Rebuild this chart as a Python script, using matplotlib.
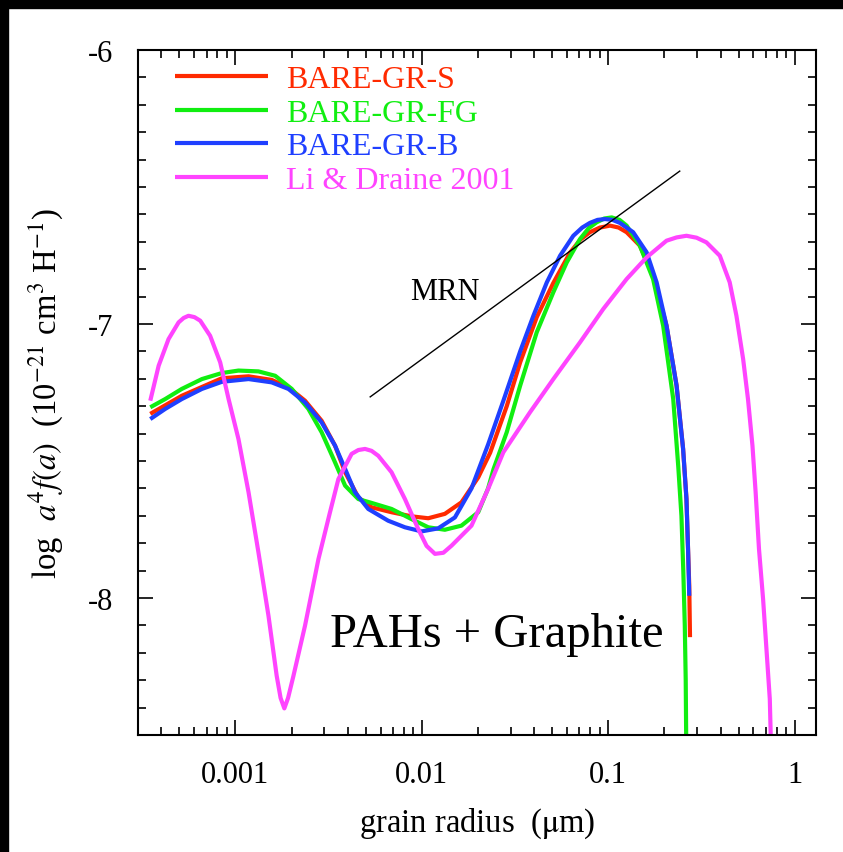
import numpy as np
import matplotlib
matplotlib.use('Agg')
import matplotlib.pyplot as plt
from matplotlib import ticker
from matplotlib.patches import Rectangle

plt.rcParams['font.family'] = ['Liberation Serif', 'DejaVu Serif']
plt.rcParams['mathtext.fontset'] = 'stix'
plt.rcParams['axes.unicode_minus'] = False

# log10 grain radius (um) and log a^4 f(a)
log_a_s = [-3.457, -3.288, -3.073, -2.930, -2.806, -2.716, -2.627, -2.538, -2.466, -2.412,
           -2.341, -2.270, -2.163, -2.056, -1.966, -1.877, -1.788, -1.698, -1.634, -1.545,
           -1.473, -1.384, -1.295, -1.206, -1.150, -1.099, -1.045, -0.991, -0.945, -0.902,
           -0.831, -0.760, -0.688, -0.634, -0.599, -0.581, -0.572, -0.566, -0.562]
val_s = [-7.328, -7.262, -7.198, -7.191, -7.204, -7.231, -7.280, -7.353, -7.444, -7.541,
         -7.633, -7.669, -7.687, -7.702, -7.709, -7.693, -7.651, -7.560, -7.470, -7.300,
         -7.140, -6.975, -6.850, -6.740, -6.692, -6.665, -6.648, -6.641, -6.648, -6.665,
         -6.714, -6.824, -7.006, -7.225, -7.456, -7.639, -7.833, -7.955, -8.143]

log_a_fg = [-3.457, -3.377, -3.288, -3.180, -3.073, -2.984, -2.877, -2.787, -2.698, -2.609,
            -2.538, -2.466, -2.412, -2.341, -2.270, -2.163, -2.056, -1.966, -1.877, -1.788,
            -1.698, -1.645, -1.616, -1.545, -1.473, -1.384, -1.295, -1.223, -1.152, -1.105,
            -1.063, -1.022, -0.982, -0.940, -0.902, -0.831, -0.760, -0.706, -0.652, -0.625,
            -0.608, -0.598, -0.590, -0.585, -0.582]
val_fg = [-7.304, -7.274, -7.237, -7.201, -7.179, -7.170, -7.173, -7.189, -7.237, -7.310,
          -7.395, -7.505, -7.590, -7.639, -7.653, -7.675, -7.712, -7.742, -7.751, -7.736,
          -7.687, -7.600, -7.530, -7.395, -7.225, -7.030, -6.884, -6.775, -6.690, -6.650,
          -6.629, -6.615, -6.611, -6.620, -6.641, -6.714, -6.836, -7.006, -7.274, -7.520,
          -7.700, -7.900, -8.100, -8.300, -8.550]

log_a_b = [-3.457, -3.377, -3.288, -3.180, -3.073, -2.930, -2.806, -2.716, -2.627, -2.538,
           -2.466, -2.412, -2.359, -2.288, -2.181, -2.091, -2.002, -1.913, -1.823, -1.734,
           -1.645, -1.563, -1.473, -1.402, -1.330, -1.259, -1.188, -1.140, -1.099, -1.058,
           -1.018, -0.978, -0.938, -0.867, -0.795, -0.741, -0.688, -0.634, -0.599, -0.581,
           -0.572, -0.566]
val_b = [-7.347, -7.310, -7.274, -7.237, -7.211, -7.201, -7.213, -7.237, -7.286, -7.359,
         -7.444, -7.529, -7.614, -7.675, -7.718, -7.742, -7.757, -7.746, -7.706, -7.600,
         -7.440, -7.280, -7.100, -6.970, -6.848, -6.751, -6.678, -6.648, -6.631, -6.620,
         -6.617, -6.620, -6.631, -6.665, -6.738, -6.848, -7.006, -7.225, -7.456, -7.639,
         -7.833, -7.992]

log_a_ld = [-3.457, -3.412, -3.359, -3.305, -3.278, -3.252, -3.220, -3.189, -3.136, -3.082,
            -3.037, -2.984, -2.930, -2.877, -2.823, -2.779, -2.758, -2.738, -2.718, -2.689,
            -2.627, -2.555, -2.493, -2.448, -2.377, -2.341, -2.305, -2.270, -2.234, -2.163,
            -2.091, -2.020, -1.975, -1.930, -1.885, -1.841, -1.734, -1.645, -1.563, -1.420,
            -1.295, -1.152, -1.027, -0.902, -0.795, -0.688, -0.634, -0.581, -0.527, -0.474,
            -0.402, -0.349, -0.313, -0.277, -0.251, -0.227, -0.210, -0.192, -0.170, -0.152,
            -0.134, -0.129]
val_ld = [-7.280, -7.152, -7.055, -6.994, -6.978, -6.970, -6.975, -6.988, -7.043, -7.140,
          -7.274, -7.420, -7.614, -7.833, -8.065, -8.284, -8.365, -8.403, -8.365, -8.284,
          -8.101, -7.858, -7.687, -7.566, -7.474, -7.460, -7.456, -7.463, -7.481, -7.541,
          -7.639, -7.748, -7.810, -7.839, -7.835, -7.809, -7.736, -7.602, -7.468, -7.322,
          -7.201, -7.067, -6.945, -6.836, -6.757, -6.696, -6.684, -6.678, -6.685, -6.702,
          -6.751, -6.848, -6.970, -7.128, -7.274, -7.444, -7.614, -7.821, -8.004, -8.186,
          -8.369, -8.503]

# MRN power law segment
mrn_a = [0.00528, 0.2415]
mrn_val = [-7.266, -6.442]

labels = ['BARE-GR-S', 'BARE-GR-FG', 'BARE-GR-B', 'Li & Draine 2001']
colors = ['#ff2a00', '#11ee11', '#1f3fff', '#ff44ff']

fig = plt.figure(figsize=(8.43, 8.53), dpi=100)
ax = fig.add_axes([0.1637, 0.1372, 0.8043, 0.8030])

series = [(log_a_s, val_s), (log_a_fg, val_fg), (log_a_b, val_b), (log_a_ld, val_ld)]
for (la, v), lab, col in zip(series, labels, colors):
    ax.plot(10 ** np.array(la), v, color=col, lw=3, label=lab, solid_capstyle='butt',
            solid_joinstyle='round')

ax.plot(mrn_a, mrn_val, color='black', lw=1)
ax.text(10 ** -1.875, -6.88, 'MRN', fontsize=22, ha='center', va='center')
ax.text(10 ** -1.597, -8.131, 'PAHs + Graphite', fontsize=35, ha='center', va='center')

ax.set_xscale('log')
ax.set_xlim(3.0e-4, 1.3)
ax.set_ylim(-8.5, -6)
ax.xaxis.set_major_locator(ticker.FixedLocator([0.001, 0.01, 0.1, 1]))
ax.xaxis.set_major_formatter(ticker.FuncFormatter(lambda v, p: f'{v:g}'))
ax.xaxis.set_minor_locator(ticker.LogLocator(base=10, subs=np.arange(2, 10), numticks=20))
ax.xaxis.set_minor_formatter(ticker.NullFormatter())
ax.yaxis.set_major_locator(ticker.MultipleLocator(1))
ax.yaxis.set_minor_locator(ticker.MultipleLocator(0.1))
ax.yaxis.set_major_formatter(ticker.FormatStrFormatter('%d'))

ax.tick_params(which='both', direction='in', top=True, right=True, labelsize=22, width=1.2)
ax.tick_params(which='major', length=11, pad=18)
ax.tick_params(which='minor', length=6)
for s in ax.spines.values():
    s.set_linewidth(1.5)

ax.set_xlabel(r'grain radius  ($\mathrm{\mu}$m)', fontsize=23.5, labelpad=12)
ax.set_ylabel(r'log  $a^4 f(a)$  (10$^{-21}$ cm$^3$ H$^{-1}$)', fontsize=23.5, labelpad=16)

leg = ax.legend(loc='upper left', bbox_to_anchor=(0.055, 0.978), frameon=False, fontsize=23,
                handlelength=2.9, handletextpad=0.56, labelspacing=0.13, borderpad=0,
                borderaxespad=0, labelcolor='linecolor')

# black strips at the top and left edge of the image
fig.patches.append(Rectangle((0, 1 - 9 / 853), 1, 9 / 853, transform=fig.transFigure,
                             color='black', zorder=10))
fig.patches.append(Rectangle((0, 0), 8 / 843, 1, transform=fig.transFigure,
                             color='black', zorder=10))

fig.savefig('out.png', dpi=100, facecolor='white')
